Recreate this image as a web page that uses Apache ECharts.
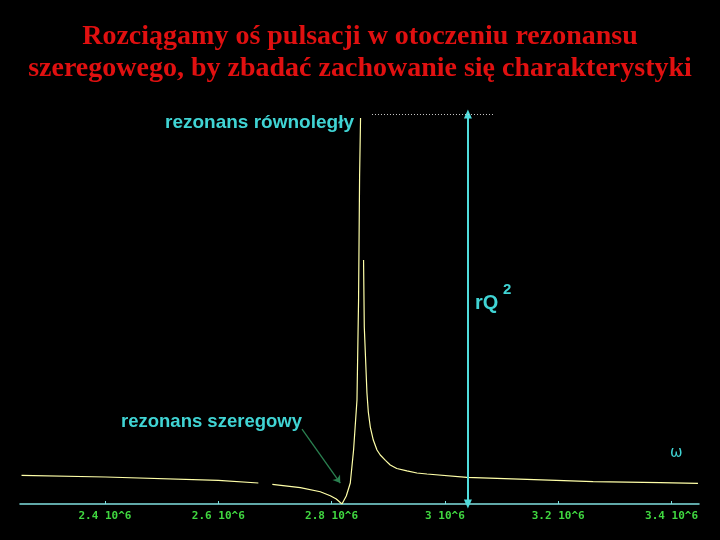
<!DOCTYPE html>
<html>
<head>
<meta charset="utf-8">
<script src="https://cdn.jsdelivr.net/npm/echarts@6/dist/echarts.min.js"></script>
<style>
html,body{margin:0;padding:0;background:#000;}
#chart{width:720px;height:540px;}
</style>
</head>
<body>
<div id="chart"></div>
<script>
// omega in units of 10^6
var omega = [2.2527, 2.401, 2.6002, 2.6707, null, 2.6954, 2.7448, 2.7801, 2.7977, 2.8083, 2.8183, 2.8212, 2.8259, 2.8330, 2.8388, 2.8448, 2.8476, 2.8494, 2.8511, null, 2.8564, 2.8577, 2.8624, 2.8648, 2.8683, 2.8736, 2.8801, 2.8859, 2.8950, 2.9035, 2.9150, 2.9330, 2.9506, 2.9683, 3.0388, 3.1446, 3.2616, 3.3797, 3.4467];
// characteristic value, in % of rQ^2
var response = [7.36, 6.92, 6.08, 5.38, null, 5.05, 4.18, 3.15, 2.13, 1.28, 0, 0.26, 2.05, 5.38, 13.85, 26.67, 52.31, 83.85, 99, null, 62.56, 45.38, 28.46, 23.6, 19.74, 16.4, 13.85, 12.56, 11.2, 10.0, 9.1, 8.5, 7.95, 7.69, 6.85, 6.33, 5.72, 5.46, 5.31];
var tickValues = [2.4, 2.6, 2.8, 3.0, 3.2, 3.4];
var tickLabels = ['2.4 10^6', '2.6 10^6', '2.8 10^6', '3 10^6', '3.2 10^6', '3.4 10^6'];
var rQ2 = 100;
var parallelOmega = 3.0406;
var seriesArrowFrom = [2.7478, 19.23];
var seriesArrowTo = [2.8153, 5.38];
var dottedFrom = 2.8713, dottedTo = 3.0852;

var data = omega.map(function (w, i) {
  return w === null ? '-' : [w, response[i]];
});

var chart = echarts.init(document.getElementById('chart'));
chart.setOption({
  backgroundColor: '#000',
  animation: false,
  title: {
    text: 'Rozciągamy oś pulsacji w otoczeniu rezonansu\nszeregowego, by zbadać zachowanie się charakterystyki',
    left: 'center',
    top: 16,
    textStyle: {
      color: '#e01010',
      fontFamily: 'Liberation Serif',
      fontWeight: 'bold',
      fontSize: 28,
      lineHeight: 32
    }
  },
  grid: { left: 20, right: 21, top: 114, bottom: 36 },
  xAxis: {
    type: 'value',
    min: 2.25,
    max: 3.4485,
    splitLine: { show: false },
    axisLine: { lineStyle: { color: '#80e0e0', width: 1.5 } },
    axisTick: {
      show: true,
      inside: true,
      length: 3,
      customValues: tickValues,
      lineStyle: { color: '#80e0e0' }
    },
    axisLabel: {
      customValues: tickValues,
      margin: 7,
      color: '#40d840',
      fontFamily: 'DejaVu Sans Mono',
      fontWeight: 'bold',
      fontSize: 11,
      formatter: function (v) {
        var i = tickValues.findIndex(function (t) { return Math.abs(t - v) < 1e-6; });
        return i >= 0 ? tickLabels[i] : '';
      }
    }
  },
  yAxis: {
    type: 'value',
    min: 0,
    max: rQ2,
    show: false
  },
  series: [{
    type: 'line',
    data: data,
    showSymbol: false,
    connectNulls: false,
    lineStyle: { color: '#ffffa8', width: 1.2 },
    markLine: {
      silent: true,
      symbol: ['none', 'none'],
      label: { show: false },
      data: [
        [
          { coord: [parallelOmega, 0], symbol: 'triangle', symbolSize: [8, 9], symbolRotate: 180,
            lineStyle: { color: '#50dcdc', width: 2, type: 'solid' } },
          { coord: [parallelOmega, rQ2], symbol: 'triangle', symbolSize: [8, 9] }
        ],
        [
          { coord: [dottedFrom, rQ2], lineStyle: { color: '#c8c8c8', width: 1, type: [1, 2] } },
          { coord: [dottedTo, rQ2] }
        ],
        [
          { coord: seriesArrowFrom, lineStyle: { color: '#2a8050', width: 1.3, type: 'solid' } },
          { coord: seriesArrowTo, symbol: 'arrow', symbolSize: 7 }
        ]
      ]
    }
  }],
  graphic: [
    { type: 'text', left: 165, top: 113,
      style: { text: 'rezonans równoległy', fill: '#40d4d4', font: 'bold 19px "Liberation Sans"' } },
    { type: 'text', left: 121, top: 412,
      style: { text: 'rezonans szeregowy', fill: '#40d4d4', font: 'bold 18.5px "Liberation Sans"' } },
    { type: 'text', left: 475, top: 293,
      style: { text: 'rQ', fill: '#40d4d4', font: 'bold 20px "Liberation Sans"' } },
    { type: 'text', left: 503, top: 282,
      style: { text: '2', fill: '#40d4d4', font: 'bold 15px "Liberation Sans"' } },
    { type: 'text', left: 670, top: 446,
      style: { text: 'ω', fill: '#40d4d4', font: '15px "DejaVu Sans"' } }
  ]
});
</script>
</body>
</html>
